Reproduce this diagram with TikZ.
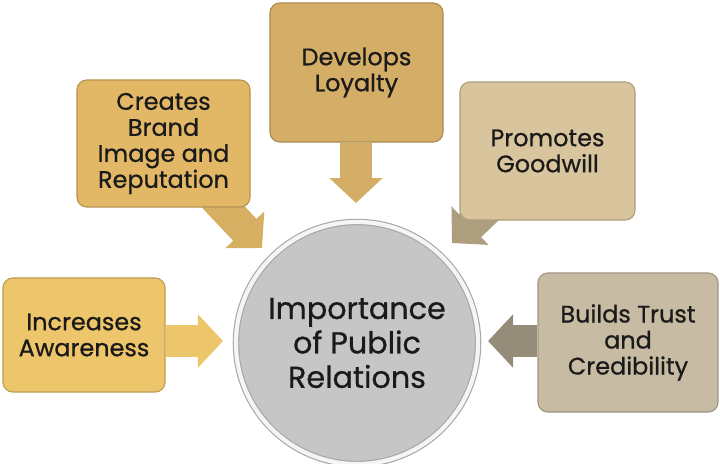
\documentclass[tikz,border=0pt]{standalone}
\usepackage{fontspec}
\setmainfont{Poppins}[FakeBold=0.7]
\usepackage{xcolor}
\usepackage{tikz}
\usetikzlibrary{arrows.meta}
\usetikzlibrary{backgrounds}

\definecolor{awareGold}{HTML}{EDC56A}
\definecolor{brandGold}{HTML}{E2B867}
\definecolor{loyalGold}{HTML}{D4AE66}
\definecolor{goodTan}{HTML}{D8C59E}
\definecolor{trustTan}{HTML}{C8BBA3}
\definecolor{hubGray}{HTML}{C6C6C6}
\definecolor{inkBlack}{HTML}{1A1A1A}

\begin{document}
\begin{tikzpicture}[x=0.025cm, y=-0.025cm,
    card/.style={rectangle, rounded corners=7pt, fill=#1, draw=#1!80!black,
      line width=0.8pt, align=center, text=inkBlack,
      font=\fontsize{17}{18.5}\selectfont},
    hub/.style={circle, fill=hubGray, draw=gray!70, double=gray!8,
      double distance=3pt, line width=0.8pt, minimum size=6.05cm,
      align=center, text=inkBlack, font=\fontsize{21.5}{24.5}\selectfont},
    pointer/.style={line width=0.8cm, draw=#1,
      -{Triangle[length=0.625cm, width=1.3cm]}}]
  \useasboundingbox (0,0) rectangle (720,463);

  % Circulo central
  \node[hub] (hub) at (357,343) {Importance\\of Public\\Relations};

  % Cajas alrededor
  \node[card=awareGold, minimum width=4.05cm, minimum height=2.85cm] (aware) at (84,335) {Increases\\Awareness};
  \node[card=brandGold, minimum width=4.325cm, minimum height=3.175cm] (brand) at (163.5,143.5) {Creates\\Brand\\Image and\\Reputation};
  \node[card=loyalGold, minimum width=4.325cm, minimum height=3.475cm] (loyal) at (356.5,72.5) {Develops\\Loyalty};
  \node[card=goodTan, minimum width=4.375cm, minimum height=3.45cm] (good) at (547.5,151) {Promotes\\Goodwill};
  \node[card=trustTan, minimum width=4.5cm, minimum height=3.475cm] (trust) at (628,342.5) {Builds Trust\\and\\Credibility};

  % Puntas de las flechas
  \coordinate (tipW) at (223,341);
  \coordinate (tipE) at (488,341);
  \coordinate (tipN) at (356,203);
  \coordinate (tipNW) at (262,248);
  \coordinate (tipNE) at (452,243);

  % Flechas (detras de las cajas)
  \begin{pgfonlayer}{background}
    \draw[pointer=awareGold] (aware.east |- tipW) -- (tipW);
    \draw[pointer=trustTan!75!black] (trust.west |- tipE) -- (tipE);
    \draw[pointer=loyalGold] (loyal.south -| tipN) -- (tipN);
    \draw[pointer=brandGold!95!black] (brand.center) -- (tipNW);
    \draw[pointer=goodTan!80!black] (good.center) -- (tipNE);
  \end{pgfonlayer}
\end{tikzpicture}
\end{document}
